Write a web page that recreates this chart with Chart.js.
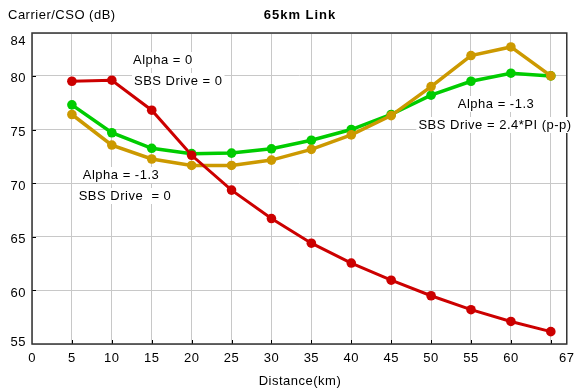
<!DOCTYPE html>
<html>
<head>
<meta charset="utf-8">
<script src="https://cdn.jsdelivr.net/npm/chart.js@4/dist/chart.umd.min.js"></script>
<style>
html,body{margin:0;padding:0;background:#fff;}
#wrap{width:581px;height:392px;position:relative;}
</style>
</head>
<body>
<div id="wrap"><canvas id="c" width="581" height="392"></canvas></div>
<script>
const distances = [5, 10, 15, 20, 25, 30, 35, 40, 45, 50, 55, 60, 65];
const redValues = [79.5, 79.6, 76.8, 72.6, 69.35, 66.7, 64.4, 62.55, 60.95, 59.5, 58.2, 57.1, 56.15];
const goldValues = [76.4, 73.55, 72.25, 71.65, 71.65, 72.15, 73.15, 74.5, 76.3, 79.0, 81.9, 82.7, 80.0];
const greenValues = [77.3, 74.7, 73.25, 72.75, 72.8, 73.2, 74.0, 75.0, 76.4, 78.2, 79.5, 80.25, 80.0];
const xTickValues = [0, 5, 10, 15, 20, 25, 30, 35, 40, 45, 50, 55, 60, 65, 67];
const xTickLabels = ['0','5','10','15','20','25','30','35','40','45','50','55','60','','67'];
const yTickValues = [55, 60, 65, 70, 75, 80, 84];

const FONT = '"Liberation Sans", Arial, sans-serif';

function pts(vals){ return distances.map((d,i)=>({x:d,y:vals[i]})); }
function ds(label, vals, color, lw){
  return {label, data: pts(vals), borderColor: color, backgroundColor: color,
    borderWidth: lw, pointRadius: 4.8, pointHoverRadius: 4.8, pointBorderWidth: 0,
    pointBackgroundColor: color, tension: 0, fill: false};
}

const notes = [
  {text:'Alpha = 0', x:133, y:60, align:'left'},
  {text:'SBS Drive = 0', x:134, y:81, align:'left'},
  {text:'Alpha = -1.3', x:121, y:175, align:'center'},
  {text:'SBS Drive  = 0', x:125, y:196, align:'center'},
  {text:'Alpha = -1.3', x:496, y:104, align:'center'},
  {text:'SBS Drive = 2.4*PI (p-p)', x:495, y:125, align:'center'}
];

const decor = {
  id:'decor',
  beforeDraw(chart){ chart.ctx.letterSpacing = '0.5px'; },
  afterDatasetsDraw(chart){
    const ctx = chart.ctx, a = chart.chartArea;
    const xs = chart.scales.x, ys = chart.scales.y;
    ctx.save();
    ctx.strokeStyle = '#000'; ctx.lineWidth = 1;
    ctx.beginPath();
    xTickValues.forEach(v=>{ if(v>0 && v<67){ const px = Math.round(xs.getPixelForValue(v))+0.5; ctx.moveTo(px,a.bottom); ctx.lineTo(px,a.bottom-4);} });
    yTickValues.forEach(v=>{ if(v>55 && v<84){ const py = Math.round(ys.getPixelForValue(v))+0.5; ctx.moveTo(a.left,py); ctx.lineTo(a.left+4,py);} });
    ctx.stroke();
    ctx.strokeStyle = '#333'; ctx.lineWidth = 1.5;
    ctx.strokeRect(a.left, a.top, a.right-a.left, a.bottom-a.top);
    ctx.font = '13px ' + FONT;
    ctx.letterSpacing = '0.5px';
    ctx.textBaseline = 'middle';
    // y tick labels
    ctx.fillStyle = '#000';
    ctx.textAlign = 'right';
    yTickValues.forEach(v=>{
      const off = v===84 ? 8 : (v===55 ? -2 : 3);
      ctx.fillText(String(v), a.left - 6, ys.getPixelForValue(v) + off);
    });
    notes.forEach(n=>{
      const w = ctx.measureText(n.text).width;
      const left = n.align==='center' ? n.x - w/2 : n.x;
      ctx.fillStyle = '#fff';
      ctx.fillRect(left-2, n.y-8, w+4, 16);
      ctx.fillStyle = '#000';
      ctx.textAlign = 'left';
      ctx.fillText(n.text, left, n.y);
    });
    ctx.fillStyle = '#000';
    ctx.textAlign = 'left';
    ctx.fillText('Carrier/CSO (dB)', 8, 15);
    ctx.textAlign = 'center';
    ctx.fillText('Distance(km)', 300, 381);
    ctx.font = 'bold 13px ' + FONT;
    ctx.letterSpacing = '1px';
    ctx.fillText('65km Link', 300, 15);
    ctx.restore();
  }
};

new Chart(document.getElementById('c'), {
  type: 'line',
  data: { datasets: [
    ds('Alpha = 0, SBS Drive = 0', redValues, '#cc0000', 3),
    ds('Alpha = -1.3, SBS Drive = 2.4*PI', goldValues, '#cc9900', 3.5),
    ds('Alpha = -1.3, SBS Drive = 0', greenValues, '#00cc00', 3.5)
  ]},
  options: {
    responsive: false, animation: false, devicePixelRatio: 1,
    layout: { padding: { left: 0, top: 33, right: 6, bottom: 0 } },
    plugins: { legend: { display: false }, tooltip: { enabled: false }, title: { display: false } },
    scales: {
      x: {
        type: 'linear', min: 0, max: 67,
        afterBuildTicks(s){ s.ticks = xTickValues.map(v=>({value:v})); },
        afterFit(s){ s.height = 48; },
        grid: { color: '#c8c8c8', lineWidth: 1, drawTicks: false },
        border: { display: false },
        ticks: { color: '#000', font: { family: FONT, size: 13 }, padding: 7, maxRotation: 0, autoSkip: false,
          callback(v){ const i = xTickValues.indexOf(v); return i>=0 ? xTickLabels[i] : ''; } }
      },
      y: {
        min: 55, max: 84,
        afterBuildTicks(s){ s.ticks = yTickValues.map(v=>({value:v})); },
        afterFit(s){ s.width = 32; },
        grid: { color: '#c8c8c8', lineWidth: 1, drawTicks: false },
        border: { display: false },
        ticks: { display: false }
      }
    }
  },
  plugins: [decor]
});
</script>
</body>
</html>
